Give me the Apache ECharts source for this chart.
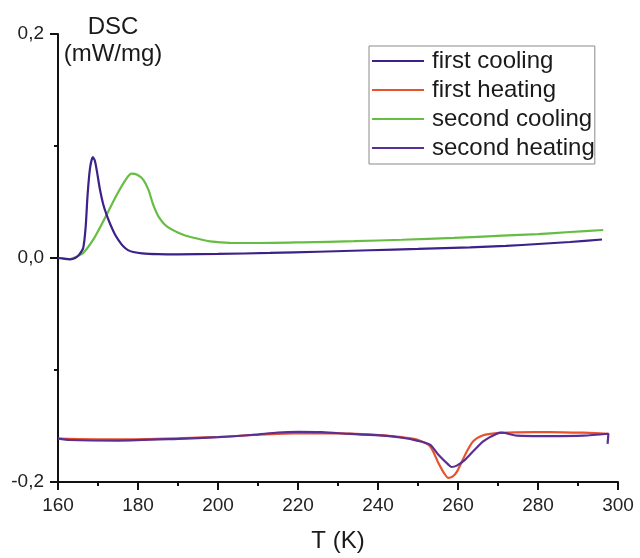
<!DOCTYPE html>
<html>
<head>
<meta charset="utf-8">
<script src="https://cdn.jsdelivr.net/npm/echarts@6/dist/echarts.min.js"></script>
<style>html,body{margin:0;padding:0;background:#fff}#c{width:640px;height:558px}</style>
</head>
<body>
<div id="c"></div>
<script>
// Series names
const seriesNames = ['first cooling', 'first heating', 'second cooling', 'second heating'];

// first cooling
const fcT = [160, 161.5, 163, 164.3, 165.3, 166.3, 166.9, 167.4, 168.0, 168.7, 169.2, 169.7, 170.5, 171.3, 172.2, 173.2, 174.25, 175.3, 176.3, 177.5, 178.8, 181, 185, 190, 200, 213, 225, 238, 250, 263, 272, 280, 288, 296];
const fcV = [0.000, -0.0005, -0.0012, 0.000, 0.003, 0.009, 0.027, 0.0565, 0.080, 0.090, 0.087, 0.078, 0.061, 0.048, 0.038, 0.029, 0.021, 0.015, 0.0104, 0.007, 0.0054, 0.0042, 0.0035, 0.0033, 0.0036, 0.0045, 0.0056, 0.0069, 0.0081, 0.0095, 0.0108, 0.0125, 0.0143, 0.0165];

// first heating
const fhT = [160, 175, 190, 200, 209, 219, 230, 241.3, 246, 249.7, 253, 255.1, 256.5, 257.6, 258.7, 259.7, 261.8, 263.8, 266.3, 269.7, 274.7, 283, 291.3, 297.6];
const fhV = [-0.1612, -0.162, -0.161, -0.1598, -0.158, -0.1566, -0.1566, -0.1583, -0.160, -0.162, -0.168, -0.183, -0.192, -0.1964, -0.195, -0.191, -0.1756, -0.1637, -0.1583, -0.1563, -0.1557, -0.1554, -0.156, -0.1569];

// second cooling
const scT = [160, 161.5, 163, 164.5, 166.3, 168.8, 171.3, 174.7, 177.2, 178.4, 179.8, 181.3, 182.6, 183.8, 185.1, 187.2, 191.3, 195, 198, 203, 210, 221, 234, 246, 259, 271, 280, 288, 296.3];
const scV = [0.000, -0.0008, -0.001, 0.001, 0.0045, 0.0164, 0.0327, 0.0565, 0.0714, 0.0753, 0.0744, 0.070, 0.061, 0.0476, 0.0372, 0.0283, 0.0208, 0.0172, 0.0149, 0.0135, 0.0134, 0.014, 0.015, 0.0163, 0.018, 0.0199, 0.0213, 0.0232, 0.025];

// second heating
const shT = [160, 163, 175, 190, 200, 209, 215, 220, 226, 233, 241.3, 246, 249.7, 253, 255.1, 257.6, 258.4, 259.7, 261.8, 263.8, 266.3, 269.7, 271, 274.7, 283, 291.3, 297.6, 297.4];
const shV = [-0.1612, -0.1625, -0.163, -0.1615, -0.160, -0.1578, -0.1558, -0.1552, -0.1555, -0.1571, -0.1586, -0.1605, -0.163, -0.1667, -0.1756, -0.1845, -0.1866, -0.1854, -0.180, -0.1726, -0.1637, -0.1569, -0.156, -0.1586, -0.159, -0.1586, -0.1569, -0.166];

const colors = ['#3c2189', '#e8522c', '#67bd43', '#5a2e92'];
const FONT = 'Liberation Sans, Arial, sans-serif';

function pairs(t, v) { return t.map((x, i) => [x, v[i]]); }

const chart = echarts.init(document.getElementById('c'), null, {renderer: 'canvas'});
const lineSeries = (i, t, v, z) => ({
  name: seriesNames[i], type: 'line', data: pairs(t, v), showSymbol: false, symbol: 'none',
  smooth: 0.25, lineStyle: {width: 2.2, color: colors[i]}, z: z
});
chart.setOption({
  backgroundColor: '#fff',
  animation: false,
  color: colors,
  grid: {left: 58, right: 22, top: 34, bottom: 74},
  graphic: [{
    type: 'text', x: 113, y: 14,
    style: {text: 'DSC\n(mW/mg)', font: '24px ' + FONT, fill: '#1a1a1a', textAlign: 'center', lineHeight: 27}
  }],
  legend: {
    orient: 'vertical', left: 369, top: 46,
    data: seriesNames,
    icon: 'rect', itemWidth: 52, itemHeight: 2, itemGap: 5,
    padding: [3, 0, 4, 3],
    borderColor: '#8a8a8a', borderWidth: 1,
    textStyle: {fontFamily: FONT, fontSize: 24, color: '#1a1a1a', padding: [0, 0, 0, 3]}
  },
  xAxis: {
    type: 'value', min: 160, max: 300, interval: 20,
    name: 'T (K)', nameLocation: 'middle', nameGap: 47,
    nameTextStyle: {fontFamily: FONT, fontSize: 24, color: '#1a1a1a'},
    axisLine: {onZero: false, lineStyle: {color: '#111', width: 2}},
    axisTick: {length: 8, lineStyle: {color: '#111', width: 2}},
    minorTick: {show: true, splitNumber: 2, length: 4, lineStyle: {color: '#111', width: 2}},
    splitLine: {show: false},
    axisLabel: {fontFamily: FONT, fontSize: 19, color: '#222', margin: 14}
  },
  yAxis: {
    type: 'value', min: -0.2, max: 0.2, interval: 0.2,
    axisLine: {show: true, lineStyle: {color: '#111', width: 2}},
    axisTick: {show: true, length: 8, lineStyle: {color: '#111', width: 2}},
    minorTick: {show: true, splitNumber: 2, length: 4, lineStyle: {color: '#111', width: 2}},
    splitLine: {show: false},
    axisLabel: {fontFamily: FONT, fontSize: 19, color: '#222', margin: 14,
      formatter: v => v.toFixed(1).replace('.', ',')}
  },
  series: [
    lineSeries(0, fcT, fcV, 4),
    lineSeries(1, fhT, fhV, 2),
    lineSeries(2, scT, scV, 3),
    lineSeries(3, shT, shV, 3)
  ]
});
</script>
</body>
</html>
